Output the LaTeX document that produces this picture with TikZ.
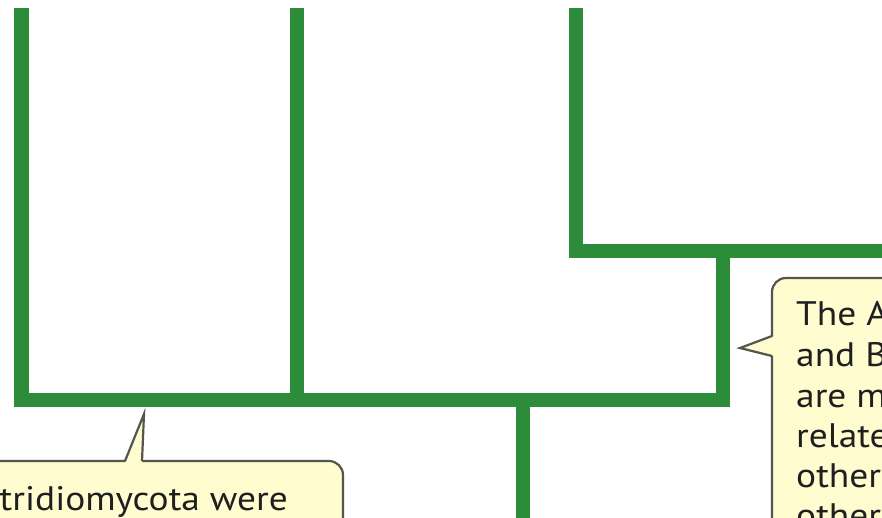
\documentclass[tikz,border=0pt]{standalone}
\usepackage{fontspec}
\setmainfont{PT Sans}[FakeStretch=1.1]
\definecolor{treegreen}{RGB}{44,140,58}
\definecolor{calloutfill}{RGB}{255,252,208}
\definecolor{calloutline}{RGB}{85,85,78}
\tikzset{
  branch/.style={draw=treegreen, line width=14.5pt, line join=miter, line cap=butt},
  callout/.style={fill=calloutfill, draw=calloutline, line width=2.2pt},
  pointerfill/.style={fill=calloutfill},
  pointerline/.style={draw=calloutline, line width=2.2pt, line join=miter},
  calltext/.style={inner sep=0pt, font=\fontsize{34}{40.5}\selectfont, text=black!88}
}
\begin{document}
\begin{tikzpicture}[x=1pt,y=-1pt]
\useasboundingbox (0,0) rectangle (882,518);
\fill[white] (0,0) rectangle (882,518);
\clip (0,0) rectangle (882,518);
% tree coordinates
\coordinate (tA) at (21.5,8);
\coordinate (cA) at (21.5,400);
\coordinate (tB) at (297,8);
\coordinate (cB) at (297,400);
\coordinate (root) at (523,400);
\coordinate (rootdown) at (523,530);
\coordinate (cR) at (723,400);
\coordinate (nR) at (723,251);
\coordinate (tC) at (576,8);
\coordinate (cC) at (576,251);
\coordinate (tD) at (895,251);
% branches
\path[branch] (tA) -- (cA) -- (cR) -- (nR);
\path[branch] (tB) -- (cB);
\path[branch] (root) -- (rootdown);
\path[branch] (tC) -- (cC) -- (tD);
% left callout
\path[callout, rounded corners=14pt] (-30,461) rectangle (343,560);
\path[pointerfill] (125,463.5) -- (144,414) -- (142,463.5) -- cycle;
\coordinate (lp1) at (125,461);
\coordinate (lptip) at (144,414);
\coordinate (lp2) at (142,461);
\path[pointerline] (lp1) -- (lptip) -- (lp2);
\node[calltext, anchor=base east] (chy) at (288,510) {Chytridiomycota were};
% right callout
\path[callout, rounded corners=14pt] (772,278) rectangle (920,560);
\path[pointerfill] (774.5,336) -- (740,348) -- (774.5,356) -- cycle;
\coordinate (rp1) at (772,336);
\coordinate (rptip) at (740,348);
\coordinate (rp2) at (772,356);
\path[pointerline] (rp1) -- (rptip) -- (rp2);
\node[calltext, anchor=base west] (r1) at (796,325) {The Ascomycota};
\node[calltext, anchor=base west] (r2) at (796,366) {and Basidiomycota};
\node[calltext, anchor=base west] (r3) at (796,407) {are more closely};
\node[calltext, anchor=base west] (r4) at (796,447) {related to each};
\node[calltext, anchor=base west] (r5) at (796,487) {other than to};
\node[calltext, anchor=base west] (r6) at (796,527) {other fungi.};
\end{tikzpicture}
\end{document}
